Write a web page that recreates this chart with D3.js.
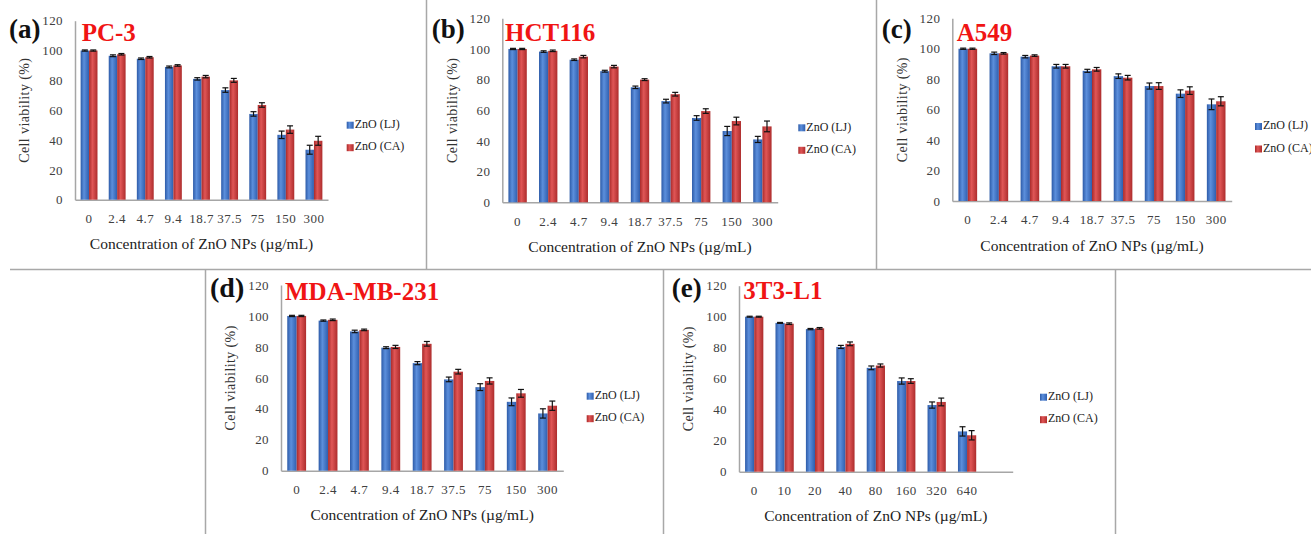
<!DOCTYPE html>
<html>
<head>
<meta charset="utf-8">
<script src="https://cdn.jsdelivr.net/npm/d3@7"></script>
<style>
  html, body { margin: 0; padding: 0; background: #fff; }
  #container { width: 1311px; height: 534px; }
  text { font-family: "Liberation Serif", "Times New Roman", serif; }
</style>
</head>
<body>
<div id="container"></div>
<script>
// categories (concentration, µg/mL)
const concCancer = ["0", "2.4", "4.7", "9.4", "18.7", "37.5", "75", "150", "300"];
const concNormal = ["0", "10", "20", "40", "80", "160", "320", "640"];
const yTicks = [0, 20, 40, 60, 80, 100, 120];
const seriesNames = ["ZnO (LJ)", "ZnO (CA)"];

// (a) PC-3
const pc3LJ = [100, 96.5, 94.5, 89, 81, 73.5, 57.5, 43.5, 33.5];
const pc3CA = [100, 97.5, 95.5, 90, 82.5, 80, 63.5, 47, 39.5];
const pc3LJErr = [0.4, 0.6, 0.5, 0.6, 0.8, 1.5, 1.5, 2.5, 3];
const pc3CAErr = [0.4, 0.5, 0.5, 0.5, 0.8, 1.3, 1.5, 2.5, 3];
// (b) HCT116
const hctLJ = [100, 98.3, 93, 85.5, 75, 66, 55, 46.5, 41];
const hctCA = [100, 98.8, 95, 88.5, 80, 70.5, 59.5, 53, 49.5];
const hctLJErr = [0.4, 0.5, 0.5, 0.6, 0.8, 1.2, 1.5, 3, 2];
const hctCAErr = [0.4, 0.5, 0.8, 0.8, 0.6, 1.2, 1.5, 2.5, 3.5];
// (c) A549
const a549LJ = [100, 97, 94.8, 88.5, 85.5, 82, 75.5, 70.5, 63.5];
const a549CA = [100, 97, 95.5, 88.5, 86.5, 81, 75.5, 72.5, 65.5];
const a549LJErr = [0.4, 0.8, 0.8, 1.2, 1, 1.5, 2, 2.5, 3.5];
const a549CAErr = [0.4, 0.5, 0.5, 1.2, 1.2, 1.5, 2.2, 2.5, 3];
// (d) MDA-MB-231
const mdaLJ = [100, 97, 90, 79.5, 69.5, 59, 54, 44.5, 37];
const mdaCA = [100, 97.5, 91, 80, 82, 64, 58, 50, 42];
const mdaLJErr = [0.4, 0.4, 0.8, 0.6, 1, 1.5, 2.2, 2.5, 3];
const mdaCAErr = [0.4, 0.5, 0.5, 1, 1.5, 1.5, 2, 2.5, 3];
// (e) 3T3-L1
const t3LJ = [100, 96, 92, 80.5, 67, 58.5, 43, 26];
const t3CA = [100, 95.5, 92.5, 82.5, 68.5, 58.5, 45, 23.5];
const t3LJErr = [0.3, 0.3, 0.4, 1, 1.2, 2, 2, 3];
const t3CAErr = [0.3, 0.5, 0.5, 1.2, 1, 1.5, 2.5, 3];

// panel layout (pixel positions on the page)
const panels = [
  { tag: "(a)", name: "PC-3", cats: concCancer, lj: pc3LJ, ca: pc3CA, ljErr: pc3LJErr, caErr: pc3CAErr,
    x0: 75, x1: 328, yB: 199.7, yT: 20.7, slots: 9, tagPos: [9, 38, 27], namePos: [81.7, 40.7], legendX: 346.7 },
  { tag: "(b)", name: "HCT116", cats: concCancer, lj: hctLJ, ca: hctCA, ljErr: hctLJErr, caErr: hctCAErr,
    x0: 502.3, x1: 777.7, yB: 202.3, yT: 18.3, slots: 9, tagPos: [431.7, 38, 27], namePos: [505, 41], legendX: 798.3 },
  { tag: "(c)", name: "A549", cats: concCancer, lj: a549LJ, ca: a549CA, ljErr: a549LJErr, caErr: a549CAErr,
    x0: 952.3, x1: 1231.7, yB: 201, yT: 18.3, slots: 9, tagPos: [881.7, 38, 27], namePos: [956.7, 41], legendX: 1255 },
  { tag: "(d)", name: "MDA-MB-231", cats: concCancer, lj: mdaLJ, ca: mdaCA, ljErr: mdaLJErr, caErr: mdaCAErr,
    x0: 281, x1: 563.3, yB: 470.7, yT: 285, slots: 9, tagPos: [210, 297, 28], namePos: [285, 300], legendX: 586.7 },
  { tag: "(e)", name: "3T3-L1", cats: concNormal, lj: t3LJ, ca: t3CA, ljErr: t3LJErr, caErr: t3CAErr,
    x0: 739, x1: 1012.7, yB: 471.7, yT: 285.7, slots: 9, tagPos: [671.7, 297, 27], namePos: [743.3, 299], legendX: 1040 }
];

const svg = d3.select("#container").append("svg")
  .attr("width", 1311).attr("height", 534);

// bar gradients
const defs = svg.append("defs");
function gradient(id, stops) {
  const g = defs.append("linearGradient").attr("id", id)
    .attr("x1", "0%").attr("x2", "100%").attr("y1", "0%").attr("y2", "0%");
  stops.forEach(([o, c]) => g.append("stop").attr("offset", o).attr("stop-color", c));
}
gradient("gBlue", [["0%", "#2d5ba8"], ["40%", "#5c8fdc"], ["100%", "#2f5eae"]]);
gradient("gRed", [["0%", "#a92a2a"], ["40%", "#e05656"], ["100%", "#ad2c2c"]]);
const fills = ["url(#gBlue)", "url(#gRed)"];

// frame lines between panels
const frame = svg.append("g").attr("stroke", "#a8a8a8").attr("stroke-width", 1.5).attr("fill", "none");
[[426.5, 0, 426.5, 269.5], [876.5, 0, 876.5, 269.5], [10, 269.5, 1311, 269.5],
 [205.5, 269.5, 205.5, 534], [663.5, 269.5, 663.5, 534], [1115.5, 269.5, 1115.5, 534]]
  .forEach(([xa, ya, xb, yb]) => frame.append("line").attr("x1", xa).attr("y1", ya).attr("x2", xb).attr("y2", yb));

function drawPanel(p) {
  const g = svg.append("g");
  const x = d3.scaleBand().domain(d3.range(p.slots)).range([p.x0, p.x1]).paddingInner(0.4).paddingOuter(0.2);
  const xs = d3.scaleBand().domain([0, 1]).range([0, x.bandwidth()]);
  const y = d3.scaleLinear().domain([0, 120]).range([p.yB, p.yT]);

  // y axis
  const ya = g.append("g").attr("transform", `translate(${p.x0},0)`)
    .call(d3.axisLeft(y).tickValues(yTicks).tickSize(0).tickPadding(12));
  ya.select(".domain").attr("stroke", "#a6a6a6").attr("stroke-width", 1.5);
  ya.selectAll("text").attr("font-family", "Liberation Serif, serif").attr("font-size", 13)
    .attr("fill", "#404040").attr("letter-spacing", 0.4);

  // x axis
  const xa = g.append("g").attr("transform", `translate(0,${p.yB})`)
    .call(d3.axisBottom(x).tickValues(d3.range(p.cats.length)).tickFormat(i => p.cats[i]).tickSize(0).tickPadding(14));
  xa.select(".domain").attr("stroke", "#a6a6a6").attr("stroke-width", 1.5);
  xa.selectAll("text").attr("font-family", "Liberation Serif, serif").attr("font-size", 13)
    .attr("fill", "#404040").attr("letter-spacing", 0.5);

  // bars + error bars
  [[p.lj, p.ljErr], [p.ca, p.caErr]].forEach(([vals, errs], s) => {
    g.append("g").selectAll("rect").data(vals).enter().append("rect")
      .attr("x", (d, i) => x(i) + xs(s)).attr("width", xs.bandwidth())
      .attr("y", d => y(d)).attr("height", d => y(0) - y(d))
      .attr("fill", fills[s]);
    const eb = g.append("g").attr("stroke", "#111").attr("stroke-width", 1.2);
    vals.forEach((d, i) => {
      const cx = x(i) + xs(s) + xs.bandwidth() / 2;
      const top = y(d + errs[i]), bot = y(d - errs[i]);
      eb.append("line").attr("x1", cx).attr("x2", cx).attr("y1", top).attr("y2", bot);
      eb.append("line").attr("x1", cx - 3).attr("x2", cx + 3).attr("y1", top).attr("y2", top);
      eb.append("line").attr("x1", cx - 3).attr("x2", cx + 3).attr("y1", bot).attr("y2", bot);
    });
  });

  // axis titles
  g.append("text").attr("x", (p.x0 + p.x1) / 2).attr("y", p.yB + 46)
    .attr("text-anchor", "middle").attr("dominant-baseline", "middle")
    .attr("font-size", 15.5).attr("fill", "#222").text("Concentration of ZnO NPs (µg/mL)");
  g.append("text")
    .attr("transform", `translate(${p.x0 - 49},${(p.yB + p.yT) / 2}) rotate(-90)`)
    .attr("text-anchor", "middle").attr("dominant-baseline", "middle")
    .attr("font-size", 14).attr("fill", "#333").attr("letter-spacing", 0.4).text("Cell viability (%)");

  // panel tag and cell line name
  g.append("text").attr("x", p.tagPos[0]).attr("y", p.tagPos[1])
    .attr("font-size", p.tagPos[2]).attr("font-weight", "bold").attr("fill", "#111").text(p.tag);
  g.append("text").attr("x", p.namePos[0]).attr("y", p.namePos[1])
    .attr("font-size", 25).attr("font-weight", "bold").attr("fill", "#f01414").text(p.name);

  // legend
  seriesNames.forEach((nm, s) => {
    const ly = p.yB - 74.5 + s * 22.5;
    g.append("rect").attr("x", p.legendX).attr("y", ly - 3.5).attr("width", 7).attr("height", 7).attr("fill", fills[s]);
    g.append("text").attr("x", p.legendX + 8).attr("y", ly).attr("dominant-baseline", "middle")
      .attr("font-size", 12).attr("fill", "#222").text(nm);
  });
}

panels.forEach(drawPanel);
</script>
</body>
</html>
